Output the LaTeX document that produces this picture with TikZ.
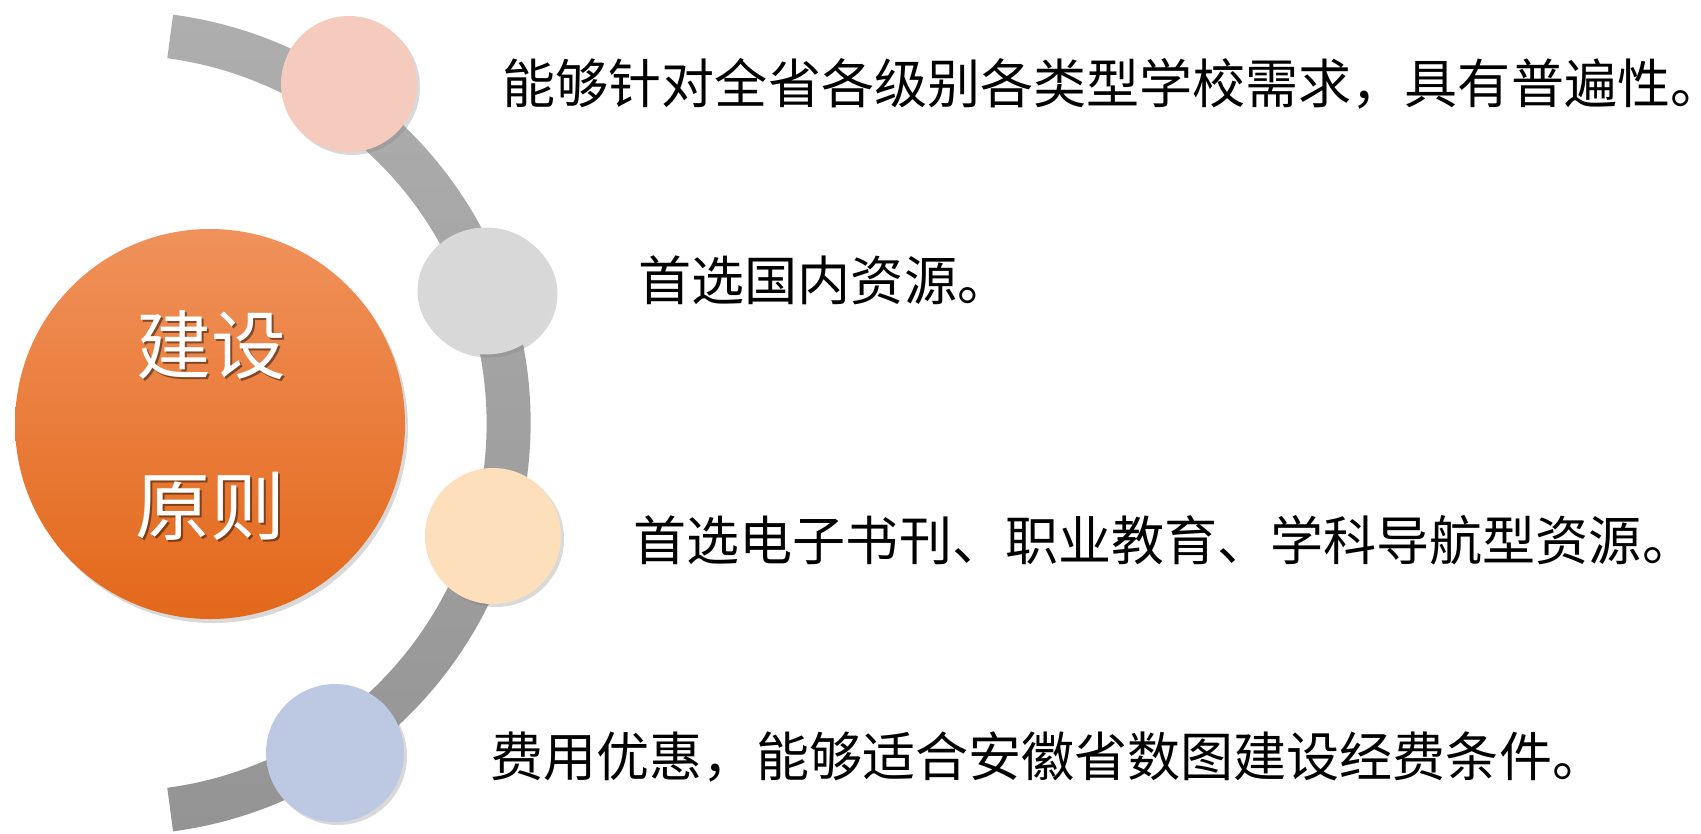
\documentclass[tikz,border=0pt]{standalone}
\usepackage{fontspec}
\newfontfamily\cjk{Noto Sans CJK SC}
\usetikzlibrary{calc,shadows,shapes.geometric}

\definecolor{bandtop}{HTML}{AEAEAE}
\definecolor{bandbot}{HTML}{949494}
\definecolor{hubtop}{HTML}{F0915B}
\definecolor{hubmid}{HTML}{F47E2F}
\definecolor{hubbot}{HTML}{E3681A}
\definecolor{dotpink}{HTML}{F5CBBE}
\definecolor{dotgray}{HTML}{D8D8D8}
\definecolor{dotpeach}{HTML}{FDE0BB}
\definecolor{dotblue}{HTML}{BDC8E2}

\tikzset{
	dot/.style={circle,inner sep=0pt,minimum size=1.36cm,drop shadow={opacity=0.3,shadow xshift=0.03cm,shadow yshift=-0.03cm}},
	item/.style={anchor=west,inner sep=0pt,font=\cjk\fontsize{15.1pt}{18pt}\selectfont},
	title/.style={inner sep=0pt,text=white,font=\cjk\fontsize{21.3pt}{26pt}\selectfont},
	titleshadow/.style={title,text=black,opacity=0.45}
}

\begin{document}
\begin{tikzpicture}
		\useasboundingbox (0,0) rectangle (17.01,8.33);
		\coordinate (hub) at (1.186,4.10);
		
		% draw grey band
		\shade[top color=bandtop,bottom color=bandbot]
			($(hub)+(82.4:4.12)$) arc[start angle=82.4,end angle=-82.4,radius=4.12]
			-- ($(hub)+(-82.4:3.68)$) arc[start angle=-82.4,end angle=82.4,radius=3.68] -- cycle;
		
		% draw big orange circle
		\node[circle,minimum size=3.9cm,inner sep=0pt,top color=hubtop,middle color=hubmid,bottom color=hubbot,
			drop shadow={opacity=0.3,shadow xshift=0.03cm,shadow yshift=-0.04cm}] (core) at (2.10,4.09) {};
		\node[titleshadow] (jianshe-s) at (2.13,4.86) {建设};
		\node[title] (jianshe) at (2.11,4.88) {建设};
		\node[titleshadow] (yuanze-s) at (2.12,3.25) {原则};
		\node[title] (yuanze) at (2.10,3.27) {原则};
		
		% draw small circles on the band
		\node[dot,fill=dotpink] (d1) at (3.49,7.49) {};
		\node[dot,ellipse,minimum width=1.37cm,minimum height=1.27cm,fill=dotgray] (d2) at (4.86,5.42) {};
		\node[dot,fill=dotpeach] (d3) at (4.93,2.97) {};
		\node[dot,fill=dotblue,minimum size=1.38cm] (d4) at (3.35,0.80) {};
		
		% draw texts
		\node[item] (t1) at (5.02,7.49) {能够针对全省各级别各类型学校需求，具有普遍性\makebox[0.4em][l]{。}};
		\node[item] (t2) at (6.38,5.53) {首选国内资源。};
		\node[item] (t3) at (6.33,2.93) {首选电子书刊、职业教育、学科导航型资源。};
		\node[item] (t4) at (4.90,0.76) {费用优惠，能够适合安徽省数图建设经费条件。};
\end{tikzpicture}
\end{document}
